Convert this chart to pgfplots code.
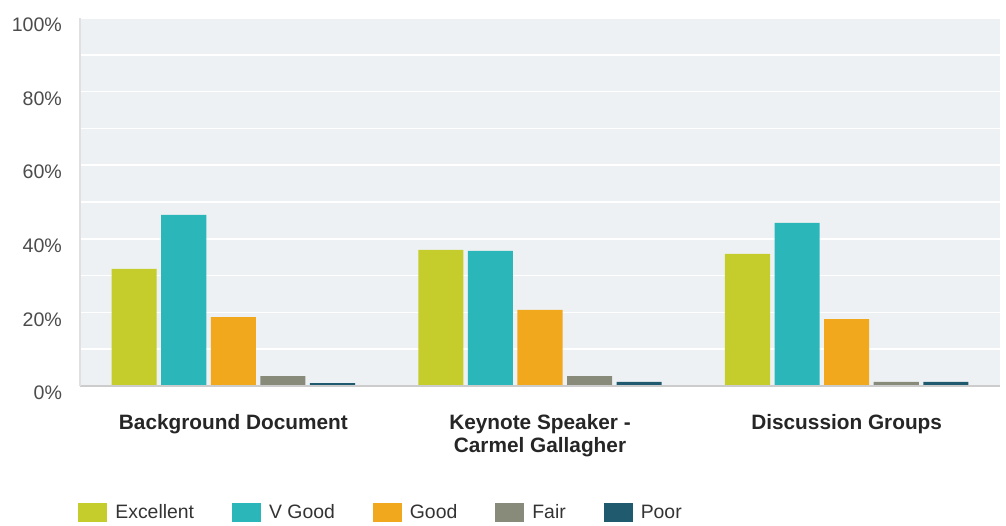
\documentclass[border=0pt]{standalone}
\usepackage{pgfplots}
\pgfplotsset{compat=1.18}
\usepackage{fontspec}
\setmainfont{Liberation Sans}

\definecolor{cExc}{HTML}{C4CD2C}
\definecolor{cVG}{HTML}{2BB7B9}
\definecolor{cGood}{HTML}{F2A81C}
\definecolor{cFair}{HTML}{888A7A}
\definecolor{cPoor}{HTML}{1F5A6E}
\definecolor{plotbg}{HTML}{EEF1F3}

\begin{document}
\begin{tikzpicture}
\path[use as bounding box] (-40pt,-69.5pt) rectangle (463pt,193pt);
\begin{axis}[
    at={(0,0)}, anchor=south west,
    scale only axis,
    width=460pt, height=184pt,
    ybar=2.25pt,
    bar width=0.147,
    xmin=-0.5, xmax=2.5,
    ymin=0, ymax=100,
    xtick={0,1,2},
    xticklabels={Background Document, {Keynote Speaker -\\Carmel Gallagher}, Discussion Groups},
    xticklabel style={align=center, font=\fontsize{10.4}{11.5}\selectfont\bfseries, text=black!85, yshift=-10.5pt},
    ytick={0,20,...,100},
    yticklabel={\pgfmathprintnumber{\tick}\%},
    yticklabel style={font=\fontsize{9.8}{11}\selectfont, text=black!70, yshift=-3.5pt, xshift=-5.5pt},
    /pgf/number format/assume math mode=true,
    minor ytick={10,30,50,70,90},
    ymajorgrids, yminorgrids,
    major grid style={white, line width=0.8pt},
    minor grid style={white, line width=0.8pt},
    major tick length=0pt, minor tick length=0pt,
    axis background/.style={fill=plotbg},
    axis line style={draw=none},
    legend columns=-1,
    legend style={at={(0,-0.345)}, anchor=west, xshift=-1pt, draw=none, fill=none,
        inner xsep=0pt, inner ysep=0pt,
        font=\fontsize{9.7}{11}\selectfont, text=black!80,
        /tikz/every even column/.append style={column sep=17pt}},
    legend image code/.code={\fill[#1] (0pt,-4.75pt) rectangle (14.5pt,4.75pt);
        \path (16.5pt,0pt);},
    clip=false,
]
\addplot[draw=none, fill=cExc] coordinates {(0,31.8) (1,37.0) (2,35.9)};
\addplot[draw=none, fill=cVG] coordinates {(0,46.5) (1,36.7) (2,44.3)};
\addplot[draw=none, fill=cGood] coordinates {(0,18.7) (1,20.7) (2,18.2)};
\addplot[draw=none, fill=cFair] coordinates {(0,2.7) (1,2.7) (2,1.1)};
\addplot[draw=none, fill=cPoor] coordinates {(0,0.8) (1,1.1) (2,1.1)};
\legend{Excellent, V Good, Good, Fair, Poor}
\draw[black!20, line width=0.8pt] (rel axis cs:0,0) -- (rel axis cs:1,0);
\draw[black!12, line width=0.8pt] (rel axis cs:0,0) -- (rel axis cs:0,1);
\end{axis}
\end{tikzpicture}
\end{document}
